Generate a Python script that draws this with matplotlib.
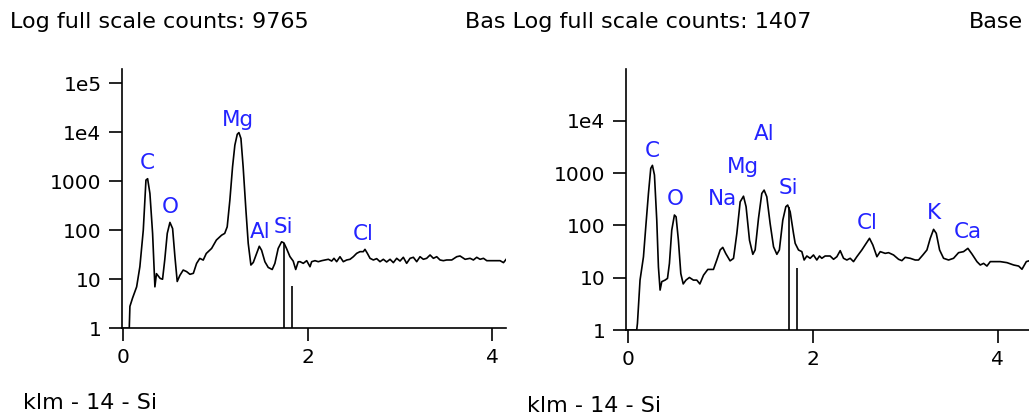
import matplotlib
matplotlib.use("Agg")
import matplotlib.pyplot as plt
import numpy as np
from matplotlib.ticker import FixedLocator, FixedFormatter, NullLocator

plt.rcParams['font.family'] = ['DejaVu Sans']

# spectrum 1 (energy keV, counts)
energy_1 = [0.0, 0.065, 0.072, 0.10, 0.145, 0.18, 0.217, 0.246, 0.264, 0.289, 0.318, 0.343, 0.36,
            0.40, 0.426, 0.45, 0.477, 0.506, 0.535, 0.56, 0.585, 0.614, 0.65, 0.687, 0.723, 0.76,
            0.795, 0.83, 0.867, 0.90, 0.958, 1.01, 1.066, 1.10, 1.127, 1.156, 1.185, 1.21, 1.236,
            1.254, 1.276, 1.30, 1.33, 1.355, 1.384, 1.41, 1.446, 1.475, 1.50, 1.536, 1.572, 1.615,
            1.644, 1.68, 1.717, 1.742, 1.77, 1.807, 1.843, 1.87, 1.897,
            1.917, 1.952, 1.989, 2.025, 2.043, 2.079, 2.115, 2.152, 2.188, 2.224, 2.26, 2.285,
            2.314, 2.35, 2.386, 2.423, 2.459, 2.495, 2.531, 2.567, 2.603, 2.621, 2.647, 2.676,
            2.712, 2.748, 2.784, 2.820, 2.856, 2.893, 2.929, 2.965, 3.001, 3.037, 3.073, 3.110,
            3.146, 3.182, 3.218, 3.254, 3.290, 3.327, 3.363, 3.399, 3.435, 3.471, 3.507, 3.562,
            3.616, 3.652, 3.707, 3.761, 3.797, 3.833, 3.869, 3.906, 3.942, 4.014, 4.086, 4.123, 4.152]
counts_1 = [1, 1, 2.8, 4.1, 7, 18, 100, 1050, 1120, 560, 86, 7, 13,
            10.4, 10, 25, 86, 144, 108, 29, 9, 12, 15.4, 14.3, 12.6, 13.2,
            21, 26.6, 24.6, 33.5, 42.5, 63, 79, 86, 117, 410, 1950, 5400, 9000,
            9765, 7400, 1950, 257, 54, 19.5, 22, 33.5, 47, 39, 22.7, 17.4, 15.8,
            21, 42.5, 58, 55, 42.5, 29, 23.4, 15.8, 22.7,
            22.8, 21.1, 23.9, 18.0, 22.8, 23.9, 22.8, 23.9, 24.7, 25.5, 23.5, 26.7,
            22.8, 28.8, 22.8, 24.7, 25.5, 28.8, 33.7, 36.5, 36.5, 40.7, 33.7, 26.7,
            24.7, 26.3, 22.8, 25.5, 22.5, 25.5, 21.8, 26.7, 23.5, 28.0, 21.1, 26.7,
            28.0, 22.8, 28.8, 25.5, 26.7, 31.2, 26.7, 28.8, 24.7, 23.9, 24.7, 24.7,
            28.8, 29.8, 25.5, 26.7, 24.7, 28.0, 25.5, 26.7, 23.9, 23.9, 23.9, 21.8, 25.5]

# spectrum 2
energy_2 = [0.0, 0.097, 0.105, 0.133, 0.17, 0.198, 0.224, 0.249, 0.267, 0.289, 0.314, 0.332, 0.35,
            0.368, 0.404, 0.43, 0.451, 0.476, 0.505, 0.523, 0.548, 0.574, 0.60, 0.63, 0.667, 0.71,
            0.747, 0.78, 0.82, 0.866, 0.927, 0.963, 1.0, 1.028, 1.06, 1.107, 1.144, 1.18, 1.216,
            1.252, 1.28, 1.317, 1.353, 1.378, 1.414, 1.45, 1.475, 1.504, 1.54, 1.577, 1.613, 1.64,
            1.677, 1.71, 1.73, 1.757, 1.793,
            1.811, 1.847, 1.883, 1.908, 1.937, 1.973, 2.009, 2.045, 2.074, 2.099, 2.135, 2.189,
            2.226, 2.262, 2.298, 2.334, 2.370, 2.406, 2.442, 2.478, 2.532, 2.579, 2.615, 2.651,
            2.695, 2.731, 2.785, 2.821, 2.875, 2.929, 2.965, 3.001, 3.055, 3.109, 3.145, 3.192,
            3.236, 3.272, 3.308, 3.337, 3.373, 3.416, 3.47, 3.524, 3.578, 3.632, 3.679, 3.723,
            3.777, 3.813, 3.849, 3.885, 3.921, 3.975, 4.029, 4.102, 4.174, 4.228, 4.264, 4.311, 4.34]
counts_2 = [1, 1, 1.34, 9, 25, 109, 408, 1230, 1407, 920, 126, 16, 5.8,
            8.4, 9, 9.7, 18.8, 81, 158, 146, 52, 12, 7.6, 9, 10.1, 9,
            9, 7.6, 11.2, 14.4, 14.4, 21.7, 34, 38, 29, 21, 23.4, 70, 282,
            362, 228, 52, 28, 34, 135, 408, 473, 353, 109, 39, 28, 34,
            126, 228, 245, 182, 70,
            45.4, 33.9, 31.5, 21.8, 26.0, 23.5, 27.2, 21.8, 26.0, 23.5, 26.0, 26.0,
            22.5, 25.2, 32.9, 23.5, 21.8, 23.5, 20.3, 25.2, 33.9, 45.4, 56.6, 42.2,
            25.2, 31.5, 29.2, 30.1, 27.2, 22.5, 21.2, 24.5, 23.5, 21.8, 21.8, 27.2,
            33.9, 56.6, 84, 70.5, 33.9, 23.5, 21.8, 23.5, 30.1, 31.5, 36.4, 28.4,
            20.3, 17.5, 18.8, 16.7, 20.3, 20.3, 20.3, 19.4, 17.5, 16.7, 14.5, 20.3, 21.0]

# peak labels: (text, energy, count position)
labels_1 = ['C', 'O', 'Mg', 'Al', 'Si', 'Cl']
label_e_1 = [0.26, 0.506, 1.247, 1.489, 1.735, 2.60]
label_c_1 = [2290, 300, 17800, 93, 117, 83]
labels_2 = ['C', 'O', 'Na', 'Mg', 'Al', 'Si', 'Cl', 'K', 'Ca']
label_e_2 = [0.26, 0.512, 1.028, 1.245, 1.475, 1.739, 2.594, 3.31, 3.676]
label_c_2 = [2690, 316, 316, 1290, 5620, 513, 112, 170, 76]

# Si K-alpha / K-beta marker lines
marker_e = [1.74, 1.83]
marker_top_1 = [55, 7.3]
marker_top_2 = [228, 15]

yticks_1 = [1, 10, 100, 1000, 1e4, 1e5]
yticklabels_1 = ['1', '10', '100', '1000', '1e4', '1e5']
yticks_2 = [1, 10, 100, 1000, 1e4]
yticklabels_2 = ['1', '10', '100', '1000', '1e4']
xticks = [0, 2, 4]

W, H = 1029, 417
fig = plt.figure(figsize=(W / 100, H / 100), dpi=100)

blue = '#2323ff'


def panel(rect, energy, counts, ylim, xlim, yt, ytl, labs, le, lc, mtop):
    ax = fig.add_axes(rect)
    ax.plot(energy, counts, color='black', lw=1.2, clip_on=True)
    ax.vlines(marker_e, 1, mtop, color='black', lw=1.2)
    ax.set_yscale('log')
    ax.set_ylim(*ylim)
    ax.set_xlim(*xlim)
    ax.yaxis.set_major_locator(FixedLocator(yt))
    ax.yaxis.set_major_formatter(FixedFormatter(ytl))
    ax.yaxis.set_minor_locator(NullLocator())
    ax.set_xticks(xticks)
    ax.set_xticklabels([str(t) for t in xticks])
    for s in ['top', 'right']:
        ax.spines[s].set_visible(False)
    for s in ['left', 'bottom']:
        ax.spines[s].set_linewidth(1.2)
    ax.tick_params(direction='out', length=9.5, width=1.2, labelsize=14.5, pad=5)
    for t, e, c in zip(labs, le, lc):
        ax.text(e, c, t, color=blue, fontsize=15.5, ha='center', va='center')
    ax.patch.set_alpha(0)
    return ax


# left panel
panel([121.7 / W, (H - 328.3) / H, (505.6 - 121.7) / W, (328.3 - 69) / H],
      energy_1, counts_1, (1, 1.93e5), (-0.017, 4.146),
      yticks_1, yticklabels_1, labels_1, label_e_1, label_c_1, marker_top_1)

# right panel
panel([625.7 / W, (H - 330) / H, (1029 - 625.7) / W, (330 - 69.3) / H],
      energy_2, counts_2, (1, 9.66e4), (-0.022, 4.34),
      yticks_2, yticklabels_2, labels_2, label_e_2, label_c_2, marker_top_2)

fig.text(10 / W, 1 - 28.5 / H, 'Log full scale counts: 9765', fontsize=16, va='baseline')
fig.text(465 / W, 1 - 28.5 / H, 'Bas Log full scale counts: 1407', fontsize=16, va='baseline')
fig.text(969 / W, 1 - 28.5 / H, 'Base', fontsize=16, va='baseline')
fig.text(22.7 / W, 1 - 409.3 / H, 'klm - 14 - Si', fontsize=16, va='baseline')
fig.text(526.7 / W, 1 - 411.7 / H, 'klm - 14 - Si', fontsize=16, va='baseline')

fig.savefig('out.png', dpi=100)
